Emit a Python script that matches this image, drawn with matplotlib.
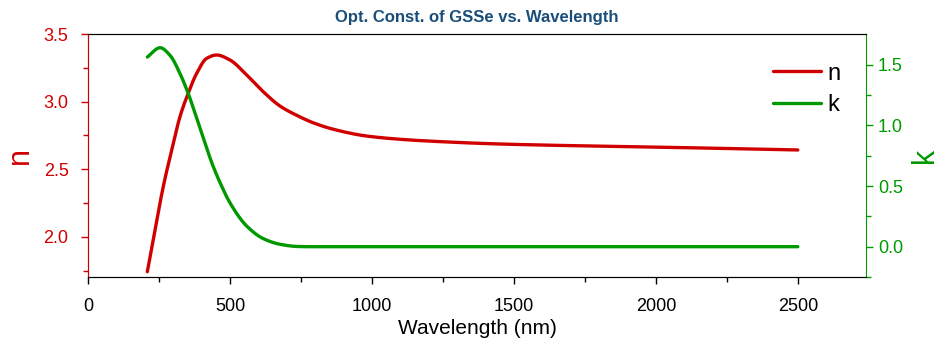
import numpy as np
import matplotlib.pyplot as plt

plt.rcParams['font.family'] = ['Liberation Sans', 'DejaVu Sans']

# refractive index n
wl_n = [209, 236, 265, 295, 324, 353, 383, 418, 453, 500, 559, 617, 676, 740, 793, 864,
        981, 1099, 1216, 1451, 1700, 2000, 2250, 2500]
n_vals = [1.743, 2.051, 2.371, 2.643, 2.889, 3.062, 3.21, 3.32, 3.345, 3.308, 3.197, 3.074,
          2.968, 2.894, 2.844, 2.796, 2.746, 2.722, 2.707, 2.687, 2.675, 2.664, 2.654, 2.643]

# extinction coefficient k
wl_k = [209, 254, 289, 324, 353, 383, 412, 441, 471, 500, 559, 617, 676, 735, 780,
        1000, 1500, 2000, 2500]
k_vals = [1.564, 1.641, 1.578, 1.428, 1.264, 1.059, 0.854, 0.662, 0.498, 0.362, 0.17, 0.067,
          0.02, 0.002, 0.0, 0.0, 0.0, 0.0, 0.0]

red = '#D00000'
green = '#009900'


def pchip(x, y, xi):
    x = np.asarray(x, float)
    y = np.asarray(y, float)
    h = np.diff(x)
    d = np.diff(y) / h
    m = np.zeros_like(y)
    for i in range(1, len(y) - 1):
        if d[i - 1] * d[i] > 0:
            w1 = 2 * h[i] + h[i - 1]
            w2 = h[i] + 2 * h[i - 1]
            m[i] = (w1 + w2) / (w1 / d[i - 1] + w2 / d[i])
    m[0] = d[0]
    m[-1] = d[-1]
    idx = np.clip(np.searchsorted(x, xi) - 1, 0, len(x) - 2)
    t = (xi - x[idx]) / h[idx]
    h00 = 2 * t**3 - 3 * t**2 + 1
    h10 = t**3 - 2 * t**2 + t
    h01 = -2 * t**3 + 3 * t**2
    h11 = t**3 - t**2
    return h00 * y[idx] + h10 * h[idx] * m[idx] + h01 * y[idx + 1] + h11 * h[idx] * m[idx + 1]


wn = np.linspace(209, 2500, 1500)
nn = pchip(wl_n, n_vals, wn)
kk = pchip(wl_k, k_vals, wn)

fig = plt.figure(figsize=(9.43, 3.45), dpi=100)
ax = fig.add_axes([0.0933, 0.1971, 0.825, 0.7043])
ax2 = ax.twinx()

l1, = ax.plot(wn, nn, color=red, lw=2.4, label='n', solid_capstyle='round')
l2, = ax2.plot(wn, kk, color=green, lw=2.4, label='k', solid_capstyle='round')

ax.set_xlim(0, 2740)
ax.set_ylim(1.704, 3.5)
ax2.set_ylim(-0.246, 1.754)

ax.set_xticks([0, 500, 1000, 1500, 2000, 2500])
ax.set_xticks(np.arange(250, 2740, 500), minor=True)
ax.set_yticks([2.0, 2.5, 3.0, 3.5])
ax.set_yticks([1.75, 2.25, 2.75, 3.25], minor=True)
ax2.set_yticks([0.0, 0.5, 1.0, 1.5])
ax2.set_yticks([-0.25, 0.25, 0.75, 1.25], minor=True)
ax.yaxis.set_major_formatter(plt.FormatStrFormatter('%.1f'))
ax2.yaxis.set_major_formatter(plt.FormatStrFormatter('%.1f'))

ax.tick_params(axis='both', which='major', direction='out', length=5, width=1, labelsize=13)
ax.tick_params(axis='both', which='minor', direction='out', length=3.5, width=1)
ax.tick_params(axis='x', which='major', pad=10)
ax.tick_params(axis='y', which='major', pad=9)
ax.tick_params(axis='y', which='both', colors=red)
ax2.tick_params(axis='y', which='major', direction='out', length=5, width=1, labelsize=13, colors=green)
ax2.tick_params(axis='y', which='minor', direction='out', length=3.5, width=1, colors=green)

ax.spines['left'].set_color(red)
ax2.spines['left'].set_color(red)
ax2.spines['right'].set_color(green)
ax.spines['right'].set_visible(False)
for s in ['top', 'bottom']:
    ax.spines[s].set_color('black')

ax.set_xlabel('Wavelength (nm)', fontsize=15, labelpad=3)
ax.set_ylabel('n', fontsize=22, color=red, labelpad=6)
ax2.set_ylabel('k', fontsize=22, color=green, labelpad=5)
ax.set_title('Opt. Const. of GSSe vs. Wavelength', fontsize=12, fontweight='bold',
             color='#1A4E7A', pad=9)

ax2.legend(handles=[l1, l2], loc='upper right', frameon=False, fontsize=17,
           handlelength=2.0, handletextpad=0.3, labelspacing=0.4,
           bbox_to_anchor=(0.995, 0.97))

fig.savefig('out.png', dpi=100)
